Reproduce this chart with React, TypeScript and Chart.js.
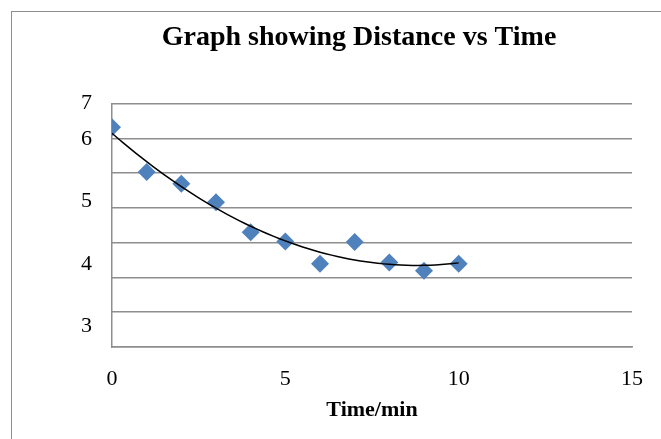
import React, { useEffect, useRef } from "react";
import { Chart, registerables } from "chart.js";

Chart.register(...registerables);

// ---- data ----
const timeMin = [0, 1, 2, 3, 4, 5, 6, 7, 8, 9, 10];
const distance = [6.2, 5.48, 5.29, 4.99, 4.51, 4.36, 4.0, 4.35, 4.02, 3.89, 4.0];
const xTickValues = [0, 5, 10, 15];
const yTickLabels = ["3", "4", "5", "6", "7"];
const yTickValues = [3, 4, 5, 6, 6.58];
const yMin = 2.66;
const yMax = 6.58;
const yGridDivisions = 7;
const chartTitle = "Graph showing Distance vs Time";
const xTitle = "Time/min";

const SERIF = "'Times New Roman', 'Liberation Serif', serif";

// Excel-style 2nd order polynomial trendline (least squares over the data)
function quadFit(xs: number[], ys: number[]) {
  const n = xs.length;
  let s1 = 0, s2 = 0, s3 = 0, s4 = 0, t0 = 0, t1 = 0, t2 = 0;
  for (let i = 0; i < n; i++) {
    const x = xs[i], y = ys[i];
    s1 += x; s2 += x * x; s3 += x * x * x; s4 += x * x * x * x;
    t0 += y; t1 += x * y; t2 += x * x * y;
  }
  const M = [
    [n, s1, s2, t0],
    [s1, s2, s3, t1],
    [s2, s3, s4, t2],
  ];
  for (let c = 0; c < 3; c++) {
    for (let r = c + 1; r < 3; r++) {
      const f = M[r][c] / M[c][c];
      for (let k = c; k < 4; k++) M[r][k] -= f * M[c][k];
    }
  }
  const coef = [0, 0, 0];
  for (let r = 2; r >= 0; r--) {
    let s = M[r][3];
    for (let k = r + 1; k < 3; k++) s -= M[r][k] * coef[k];
    coef[r] = s / M[r][r];
  }
  return coef;
}

const CANVAS_W = 720;
const CANVAS_H = 439;

export default function App() {
  const ref = useRef<HTMLCanvasElement | null>(null);

  useEffect(() => {
    if (!ref.current) return;
    const [a, b, c] = quadFit(timeMin, distance);
    const x0 = timeMin[0];
    const x1 = timeMin[timeMin.length - 1];
    const trend: { x: number; y: number }[] = [];
    const steps = 60;
    for (let i = 0; i <= steps; i++) {
      const x = x0 + ((x1 - x0) * i) / steps;
      trend.push({ x, y: a + b * x + c * x * x });
    }

    const chart = new Chart(ref.current, {
      type: "scatter",
      data: {
        datasets: [
          {
            label: "Distance",
            data: timeMin.map((t, i) => ({ x: t, y: distance[i] })),
            pointStyle: "rectRot",
            pointRadius: 9,
            pointHoverRadius: 9,
            backgroundColor: "#4F81BD",
            borderColor: "#4F81BD",
            borderWidth: 0,
            yAxisID: "y",
            order: 1,
          },
          {
            type: "line",
            label: "Trend",
            data: trend,
            borderColor: "#000000",
            borderWidth: 1.5,
            pointRadius: 0,
            fill: false,
            tension: 0,
            yAxisID: "y",
            order: 0,
          } as any,
        ],
      },
      options: {
        responsive: false,
        animation: false,
        events: [],
        layout: { padding: { left: 0, right: 2, top: 0, bottom: 0 } },
        plugins: {
          legend: { display: false },
          tooltip: { enabled: false },
          title: {
            display: true,
            text: chartTitle,
            color: "#000000",
            font: { family: SERIF, size: 28, weight: "bold" },
            padding: { top: 21, bottom: 49 },
          },
        },
        scales: {
          x: {
            type: "linear",
            position: "bottom",
            min: 0,
            max: 15,
            afterBuildTicks: (scale: any) => {
              scale.ticks = xTickValues.map((v) => ({ value: v }));
            },
            afterFit: (scale: any) => {
              scale.height = 92;
            },
            grid: { display: false, drawTicks: false },
            border: { display: true, color: "#8E8E8E", width: 1.5 },
            ticks: {
              color: "#000000",
              font: { family: SERIF, size: 22 },
              padding: 19,
              maxRotation: 0,
            },
            title: {
              display: true,
              text: xTitle,
              color: "#000000",
              font: { family: SERIF, size: 22, weight: "bold" },
              padding: { top: 0, bottom: 15 },
            },
          },
          y: {
            type: "linear",
            position: "right",
            min: yMin,
            max: yMax,
            afterBuildTicks: (scale: any) => {
              const arr = [];
              for (let i = 0; i <= yGridDivisions; i++) {
                arr.push({ value: yMin + ((yMax - yMin) * i) / yGridDivisions });
              }
              scale.ticks = arr;
            },
            afterFit: (scale: any) => {
              scale.width = 86;
            },
            ticks: { display: false },
            grid: { color: "#8E8E8E", lineWidth: 1.5, drawTicks: false },
            border: { display: false },
          },
          yLabels: {
            type: "linear",
            position: "left",
            min: yMin,
            max: yMax,
            afterBuildTicks: (scale: any) => {
              scale.ticks = yTickValues.map((v) => ({ value: v }));
            },
            afterFit: (scale: any) => {
              scale.width = 112;
            },
            grid: { display: false, drawTicks: false },
            border: { display: true, color: "#8E8E8E", width: 1.5 },
            ticks: {
              color: "#000000",
              font: { family: SERIF, size: 22 },
              padding: 20,
              callback: (_v: any, i: number) => yTickLabels[i],
            },
          },
        },
      } as any,
    });
    return () => chart.destroy();
  }, []);

  return (
    <div
      style={{
        position: "fixed",
        left: 0,
        top: 0,
        width: 661,
        height: 439,
        overflow: "hidden",
        background: "#ffffff",
      }}
    >
      <div
        style={{
          position: "absolute",
          left: 11,
          top: 11,
          width: 760,
          height: 520,
          border: "1.5px solid #8E8E8E",
          boxSizing: "border-box",
        }}
      />
      <canvas
        ref={ref}
        width={CANVAS_W}
        height={CANVAS_H}
        style={{ position: "absolute", left: 0, top: 0, width: CANVAS_W, height: CANVAS_H }}
      />
    </div>
  );
}
